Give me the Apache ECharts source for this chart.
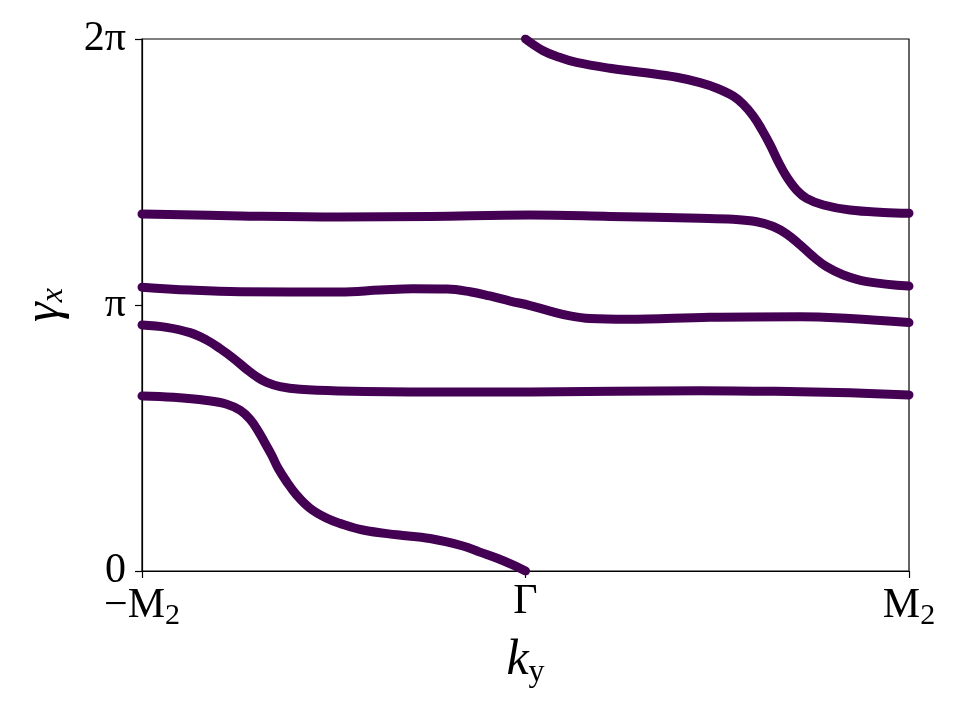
<!DOCTYPE html>
<html>
<head>
<meta charset="utf-8">
<script src="https://cdn.jsdelivr.net/npm/echarts@6/dist/echarts.min.js"></script>
<style>
  html, body { margin: 0; padding: 0; background: #fff; }
  #chart { width: 960px; height: 720px; }
</style>
</head>
<body>
<div id="chart"></div>
<script>
  // k_y in units of M2 (-1 .. 1), gamma_x in units of pi (0 .. 2)
  const upperK = [-1, -0.744, -0.484, -0.249, 0.012, 0.220, 0.455, 0.541, 0.603, 0.646, 0.681, 0.716, 0.750, 0.785, 0.829, 0.890, 1];
  const upperG = [1.342, 1.335, 1.331, 1.333, 1.338, 1.333, 1.326, 1.322, 1.313, 1.295, 1.267, 1.226, 1.182, 1.144, 1.113, 1.088, 1.071];

  const secondK = [-1, -0.875, -0.744, -0.484, -0.379, -0.293, -0.205, -0.145, -0.093, -0.040, 0.012, 0.064, 0.116, 0.168, 0.265, 0.481, 0.716, 0.846, 1];
  const secondG = [1.067, 1.056, 1.050, 1.049, 1.056, 1.061, 1.060, 1.050, 1.034, 1.015, 0.998, 0.977, 0.959, 0.949, 0.946, 0.954, 0.956, 0.949, 0.934];

  const thirdK = [-1, -0.936, -0.875, -0.831, -0.797, -0.762, -0.727, -0.701, -0.675, -0.640, -0.588, -0.484, -0.249, 0.012, 0.455, 0.716, 0.846, 1];
  const thirdG = [0.925, 0.916, 0.896, 0.868, 0.837, 0.800, 0.758, 0.730, 0.709, 0.693, 0.683, 0.677, 0.673, 0.673, 0.678, 0.674, 0.670, 0.662];

  const lowerK = [-1, -0.918, -0.831, -0.779, -0.744, -0.718, -0.697, -0.679, -0.662, -0.645, -0.623, -0.597, -0.562, -0.518, -0.484, -0.424, -0.335, -0.249, -0.163, -0.119, -0.074, -0.033, 0];
  const lowerG = [0.658, 0.653, 0.641, 0.627, 0.604, 0.570, 0.526, 0.480, 0.436, 0.386, 0.336, 0.286, 0.236, 0.198, 0.179, 0.154, 0.136, 0.122, 0.094, 0.071, 0.048, 0.023, 0];

  // same band after wrapping past 2pi at Gamma
  const wrapK = [0, 0.046, 0.089, 0.133, 0.220, 0.307, 0.394, 0.455, 0.499, 0.542, 0.568, 0.594, 0.616, 0.638, 0.659, 0.681, 0.707, 0.733, 0.777, 0.846, 0.933, 1];
  const wrapG = [2.0, 1.956, 1.931, 1.912, 1.890, 1.874, 1.856, 1.836, 1.815, 1.785, 1.754, 1.710, 1.660, 1.602, 1.539, 1.482, 1.432, 1.401, 1.376, 1.357, 1.348, 1.345];

  const xTicks = { '-1': '{t|−M}{s|2}', '0': '{t|Γ}', '1': '{t|M}{s|2}' };
  const yTicks = { '0': '0', '1': 'π', '2': '2π' };

  const bandColor = '#440154';
  const serif = 'Liberation Serif';

  const zip = (k, g) => k.map((v, i) => [v, g[i]]);

  const band = (k, g) => ({
    type: 'line',
    data: zip(k, g),
    smooth: 0.4,
    symbol: 'none',
    clip: true,
    lineStyle: { color: bandColor, width: 9, cap: 'round', join: 'round' },
    animation: false,
  });

  const chart = echarts.init(document.getElementById('chart'));

  chart.setOption({
    backgroundColor: '#fff',
    grid: {
      left: 142,
      right: 51,
      top: 39,
      bottom: 149,
      show: true,
      borderColor: '#000',
      borderWidth: 1.2,
    },
    xAxis: {
      type: 'value',
      min: -1,
      max: 1,
      interval: 1,
      name: '{k|k}{s|y}',
      nameLocation: 'middle',
      nameGap: 62,
      nameTextStyle: {
        rich: {
          k: { fontFamily: serif, fontStyle: 'italic', fontSize: 50, color: '#000' },
          s: { fontFamily: serif, fontSize: 32, color: '#000', padding: [24, 0, 0, 0] },
        },
      },
      axisLine: { show: true, onZero: false, lineStyle: { color: '#000', width: 1.2 } },
      axisTick: { show: true, length: 7, lineStyle: { color: '#000', width: 1.2 } },
      splitLine: { show: false },
      axisLabel: {
        margin: 10,
        formatter: (v) => xTicks[String(v)] || '',
        rich: {
          t: { fontFamily: serif, fontSize: 42, color: '#000' },
          s: { fontFamily: serif, fontSize: 30, color: '#000', padding: [20, 0, 0, 0] },
        },
      },
    },
    yAxis: {
      type: 'value',
      min: 0,
      max: 2,
      interval: 1,
      name: '{g|γ}{s|x}',
      nameLocation: 'middle',
      nameRotate: 90,
      nameGap: 72,
      nameTextStyle: {
        rich: {
          g: { fontFamily: serif, fontStyle: 'italic', fontSize: 50, color: '#000' },
          s: { fontFamily: serif, fontStyle: 'italic', fontSize: 32, color: '#000', padding: [18, 0, 0, 0] },
        },
      },
      axisLine: { show: true, onZero: false, lineStyle: { color: '#000', width: 1.2 } },
      axisTick: { show: true, length: 7, lineStyle: { color: '#000', width: 1.2 } },
      splitLine: { show: false },
      axisLabel: {
        margin: 16,
        fontFamily: serif,
        fontSize: 42,
        color: '#000',
        formatter: (v) => yTicks[String(v)] || '',
      },
    },
    series: [
      band(upperK, upperG),
      band(secondK, secondG),
      band(thirdK, thirdG),
      band(lowerK, lowerG),
      band(wrapK, wrapG),
    ],
  });
</script>
</body>
</html>
